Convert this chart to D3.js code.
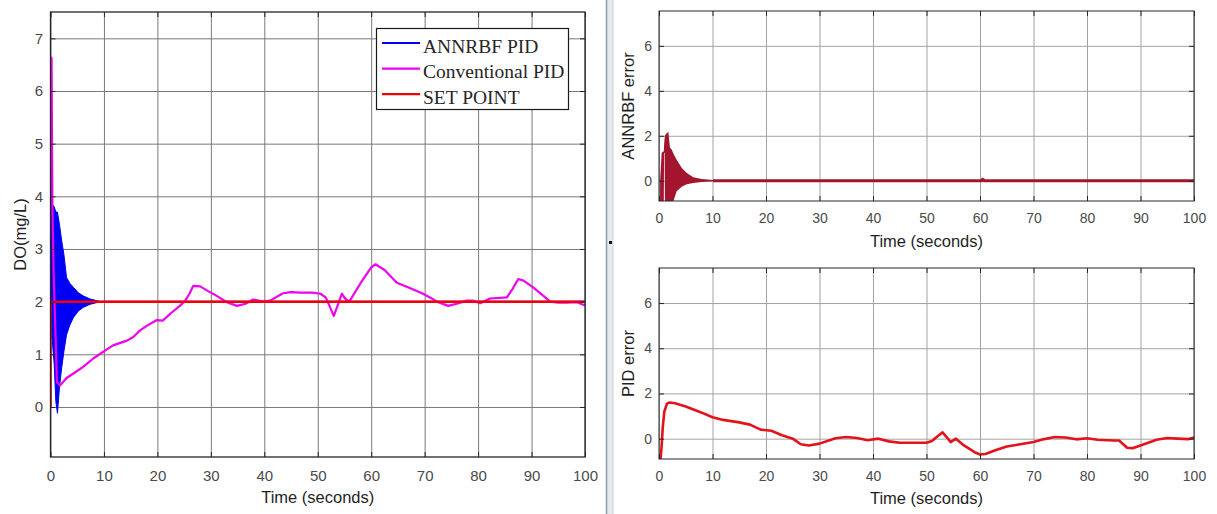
<!DOCTYPE html>
<html>
<head>
<meta charset="utf-8">
<script src="https://cdn.jsdelivr.net/npm/d3@7"></script>
<style>
body { margin: 0; background: #fff; }
text { font-family: "Liberation Sans", Arial, sans-serif; }
</style>
</head>
<body>
<div id="chart"></div>
<script>
// ---- data ----
var timeTicks = [0, 10, 20, 30, 40, 50, 60, 70, 80, 90, 100];
var doTicks = [0, 1, 2, 3, 4, 5, 6, 7];
var errTicks = [0, 2, 4, 6];

var legendNames = ["ANNRBF PID", "Conventional PID", "SET POINT"];

// set point
var spTime = [0, 0, 100];
var spDO = [0, 2, 2];

// conventional PID output
var convTime = [0.15, 0.2, 0.35, 0.6, 0.9, 1.2, 1.8, 3.0, 4.5, 6.1, 8.0, 9.9, 11.7, 14.3, 15.5, 16.7, 18.0,
	19.9, 21.0, 22.5, 24.2, 25.2, 26.0, 26.7, 28.0, 29.5, 31.1, 33.0, 34.9, 36.5, 37.9, 39.8, 41.1, 43.5, 45.0,
	46.7, 49.0, 50.5, 51.5, 53.0, 53.8, 54.5, 55.2, 55.9, 58.0, 60.0, 60.8, 62.5, 64.8, 67.0, 69.7, 71.0, 72.3,
	74.4, 76.0, 77.9, 79.0, 80.4, 82.2, 85.4, 86.5, 87.5, 88.5, 90.3, 92.0, 93.5, 95.0, 96.6, 98.5, 99.7, 100];
var convDO = [6.65, 6.6, 3.8, 2.5, 1.5, 0.47, 0.41, 0.55, 0.65, 0.76, 0.92, 1.05, 1.17, 1.26, 1.33, 1.45, 1.54,
	1.65, 1.64, 1.78, 1.92, 2.02, 2.15, 2.3, 2.29, 2.2, 2.11, 1.99, 1.92, 1.96, 2.04, 2.0, 2.02, 2.16, 2.18,
	2.17, 2.17, 2.15, 2.08, 1.73, 1.95, 2.15, 2.05, 2.0, 2.35, 2.65, 2.71, 2.6, 2.36, 2.27, 2.15, 2.08, 2.0,
	1.92, 1.96, 2.02, 2.02, 1.97, 2.06, 2.08, 2.25, 2.43, 2.4, 2.27, 2.13, 2.0, 1.98, 1.98, 1.99, 1.94, 1.94];

// ANNRBF PID output: envelope of the fast oscillation, then settled at set point
var annTime = [0, 0.25, 0.3, 0.7, 1.0, 1.3, 1.7, 2.1, 2.5, 3.0, 3.6, 4.3, 5.2, 6.1, 7.4, 8.6, 9.5];
var annUpper = [5.6, 5.6, 3.85, 3.8, 3.7, 3.7, 3.45, 3.15, 2.9, 2.46, 2.35, 2.27, 2.17, 2.11, 2.05, 2.02, 2.0];
var annLower = [1.3, 1.3, 1.3, 0.8, 0.1, -0.12, 0.4, 0.75, 1.05, 1.37, 1.55, 1.7, 1.82, 1.89, 1.95, 1.98, 2.0];
var annTailTime = [9.5, 100];
var annTailDO = [2.0, 2.0];

// ANNRBF error envelope and tail
var annErrTime = [0.2, 0.5, 0.8, 0.9, 0.95, 1.05, 1.1, 1.3, 1.75, 2.05, 2.4, 2.7, 3.3, 4.3, 5.2, 6.4, 8.0, 10.1];
var annErrUpper = [0.0, 1.25, 1.3, 1.3, 1.6, 1.9, 2.0, 2.08, 2.18, 1.47, 1.38, 1.2, 0.93, 0.56, 0.34, 0.16, 0.08, 0.03];
var annErrLower = [-0.9, -0.9, -0.9, -0.9, 1.25, 1.25, -0.9, -0.9, -0.9, -0.9, -0.9, -0.9, -0.47, -0.25, -0.15, -0.1, -0.05, -0.02];
var annErrTailTime = [10.1, 60.2, 60.5, 60.9, 100];
var annErrTail = [0.0, 0.0, 0.06, 0.0, 0.0];

// conventional PID error
var pidTime = [0, 0.3, 0.5, 0.7, 1.0, 1.5, 2.0, 3.0, 5.0, 8.0, 10.0, 12.0, 15.0, 17.0, 19.0, 21.0, 23.0, 25.0,
	26.5, 28.0, 30.0, 33.0, 35.0, 37.0, 39.0, 41.0, 43.0, 45.0, 50.0, 51.0, 53.0, 54.0, 54.5, 55.5, 57.0, 59.0,
	60.0, 61.0, 63.0, 65.0, 67.0, 70.0, 72.0, 74.0, 76.0, 78.0, 80.0, 82.0, 85.0, 86.0, 87.5, 88.5, 90.0, 93.0,
	95.0, 97.0, 99.0, 100];
var pidErr = [-0.9, -0.9, -0.3, 0.5, 1.2, 1.55, 1.6, 1.57, 1.42, 1.15, 0.95, 0.83, 0.72, 0.62, 0.4, 0.35, 0.15, 0.0,
	-0.25, -0.3, -0.22, 0.02, 0.07, 0.03, -0.07, 0.0, -0.12, -0.18, -0.18, -0.1, 0.28, 0.0, -0.15, 0.0, -0.3, -0.6,
	-0.7, -0.68, -0.5, -0.35, -0.27, -0.15, -0.02, 0.07, 0.05, -0.03, 0.02, -0.05, -0.08, -0.08, -0.4, -0.42, -0.3, -0.05,
	0.03, 0.0, -0.02, 0.05];

function zip(a, b){
	return a.map(function(d, i){ return [d, b[i]]; });
}

var svg = d3.select("#chart")
	.append("svg")
	.attr("width", 1217)
	.attr("height", 514);

// divider between the two figure windows
svg.append("rect")
	.attr("x", 606).attr("y", 0)
	.attr("width", 7).attr("height", 514)
	.attr("fill", "#e6e9ed");
svg.append("line")
	.attr("x1", 606.5).attr("x2", 606.5).attr("y1", 0).attr("y2", 514)
	.attr("stroke", "#8d9ab0").attr("stroke-width", 1.5);
svg.append("line")
	.attr("x1", 613).attr("x2", 613).attr("y1", 0).attr("y2", 514)
	.attr("stroke", "#cfd3d8").attr("stroke-width", 1);
svg.append("rect")
	.attr("x", 609).attr("y", 241)
	.attr("width", 3).attr("height", 3)
	.attr("fill", "#111");

function makePanel(id, box, yDomain, yTicks, yLabel, o){
	var x = d3.scaleLinear().domain([0, 100]).range([box.left, box.right]);
	var y = d3.scaleLinear().domain(yDomain).range([box.bottom, box.top]);
	var h = box.bottom - box.top, w = box.right - box.left;

	svg.append("clipPath").attr("id", id)
		.append("rect")
		.attr("x", box.left).attr("y", box.top)
		.attr("width", w).attr("height", h);

	svg.append("rect")
		.attr("x", box.left).attr("y", box.top)
		.attr("width", w).attr("height", h)
		.attr("fill", "#fff");

	// grid + tick labels
	var gx = svg.append("g")
		.attr("transform", "translate(0," + box.bottom + ")")
		.call(d3.axisBottom(x).tickValues(timeTicks).tickSize(-h).tickPadding(o.padX).tickFormat(d3.format("d")));
	var gy = svg.append("g")
		.attr("transform", "translate(" + box.left + ",0)")
		.call(d3.axisLeft(y).tickValues(yTicks).tickSize(-w).tickPadding(o.padY).tickFormat(d3.format("d")));
	[gx, gy].forEach(function(g){
		g.select(".domain").remove();
		g.selectAll(".tick line").attr("stroke", o.grid).attr("stroke-width", 1);
		g.selectAll(".tick text")
			.attr("fill", "#4a4a4a")
			.style("font-size", o.tickFont + "px")
			.style("font-family", "'Liberation Sans', Arial, sans-serif");
	});

	var plot = svg.append("g").attr("clip-path", "url(#" + id + ")");

	// frame and inner ticks drawn later on top
	var frame = svg.append("g");
	frame.append("g").attr("transform", "translate(0," + box.bottom + ")")
		.call(d3.axisBottom(x).tickValues(timeTicks).tickSize(-5).tickFormat(""));
	frame.append("g").attr("transform", "translate(0," + box.top + ")")
		.call(d3.axisTop(x).tickValues(timeTicks).tickSize(-5).tickFormat(""));
	frame.append("g").attr("transform", "translate(" + box.left + ",0)")
		.call(d3.axisLeft(y).tickValues(yTicks).tickSize(-5).tickFormat(""));
	frame.append("g").attr("transform", "translate(" + box.right + ",0)")
		.call(d3.axisRight(y).tickValues(yTicks).tickSize(-5).tickFormat(""));
	frame.selectAll(".domain").remove();
	frame.selectAll("line").attr("stroke", "#262626");
	frame.append("rect")
		.attr("x", box.left).attr("y", box.top)
		.attr("width", w).attr("height", h)
		.attr("fill", "none")
		.attr("stroke", "#262626")
		.attr("stroke-width", o.frameWidth);

	svg.append("text")
		.attr("x", (box.left + box.right) / 2)
		.attr("y", o.xLabelY)
		.attr("text-anchor", "middle")
		.attr("dy", "0.35em")
		.attr("fill", "#1f1f1f")
		.style("font-size", o.labelFont + "px")
		.text("Time (seconds)");

	svg.append("text")
		.attr("transform", "translate(" + o.yLabelX + "," + ((box.top + box.bottom) / 2) + ") rotate(-90)")
		.attr("text-anchor", "middle")
		.attr("dy", "0.35em")
		.attr("fill", "#1f1f1f")
		.style("font-size", o.labelFont + "px")
		.text(yLabel);

	return {x: x, y: y, plot: plot, frame: frame};
}

// ---- left: DO response ----
var L = makePanel("clipL", {left: 50.5, right: 585, top: 12, bottom: 457}, [-0.95, 7.5], doTicks, "DO(mg/L)",
	{grid: "#7a7a7a", padX: 13, padY: 7.5, tickFont: 15, labelFont: 16.5, xLabelY: 497, yLabelX: 20, frameWidth: 1.3});

var lineL = d3.line().x(function(d){ return L.x(d[0]); }).y(function(d){ return L.y(d[1]); });
var areaL = d3.area()
	.x(function(d){ return L.x(d.t); })
	.y0(function(d){ return L.y(d.lo); })
	.y1(function(d){ return L.y(d.hi); });

L.plot.append("path")
	.datum(annTime.map(function(t, i){ return {t: t, hi: annUpper[i], lo: annLower[i]}; }))
	.attr("d", areaL)
	.attr("fill", "#0000f5")
	.attr("stroke", "#0000f5")
	.attr("stroke-width", 1);
L.plot.append("path")
	.datum(zip(annTailTime, annTailDO))
	.attr("d", lineL)
	.attr("fill", "none").attr("stroke", "#0000f5").attr("stroke-width", 2);
L.plot.append("path")
	.datum(zip(convTime, convDO))
	.attr("d", lineL)
	.attr("fill", "none").attr("stroke", "#f000f0").attr("stroke-width", 2.2)
	.attr("stroke-linejoin", "round");
L.plot.append("path")
	.datum(zip(spTime, spDO))
	.attr("d", lineL)
	.attr("fill", "none").attr("stroke", "#f40000").attr("stroke-width", 2.5);

// legend
var legendColors = ["#0000f5", "#f000f0", "#f40000"];
var legend = svg.append("g");
legend.append("rect")
	.attr("x", 376.5).attr("y", 28.5)
	.attr("width", 192).attr("height", 81)
	.attr("fill", "#fff").attr("stroke", "#1a1a1a").attr("stroke-width", 1.2);
legend.selectAll("line.key")
	.data(legendNames)
	.enter().append("line")
	.attr("class", "key")
	.attr("x1", 382).attr("x2", 420)
	.attr("y1", function(d, i){ return 43 + i * 25.6; })
	.attr("y2", function(d, i){ return 43 + i * 25.6; })
	.attr("stroke", function(d, i){ return legendColors[i]; })
	.attr("stroke-width", 2.2);
legend.selectAll("text")
	.data(legendNames)
	.enter().append("text")
	.attr("x", 423)
	.attr("y", function(d, i){ return 52.5 + i * 25.6; })
	.attr("fill", "#262626")
	.style("font-family", "'Liberation Serif', 'Times New Roman', serif")
	.style("font-size", "19.5px")
	.text(function(d){ return d; });

// ---- right top: ANNRBF error ----
var RT = makePanel("clipRT", {left: 659, right: 1194, top: 11, bottom: 201}, [-0.9, 7.55], errTicks, "ANNRBF error",
	{grid: "#a3a3a3", padX: 12, padY: 7, tickFont: 14, labelFont: 16.5, xLabelY: 241, yLabelX: 628, frameWidth: 1});

var lineRT = d3.line().x(function(d){ return RT.x(d[0]); }).y(function(d){ return RT.y(d[1]); });
RT.plot.append("path")
	.datum(annErrTime.map(function(t, i){ return {t: t, hi: annErrUpper[i], lo: annErrLower[i]}; }))
	.attr("d", d3.area()
		.x(function(d){ return RT.x(d.t); })
		.y0(function(d){ return RT.y(d.lo); })
		.y1(function(d){ return RT.y(d.hi); }))
	.attr("fill", "#a3142f");
RT.plot.append("path")
	.datum(zip(annErrTailTime, annErrTail))
	.attr("d", lineRT)
	.attr("fill", "none").attr("stroke", "#a3142f").attr("stroke-width", 3);

// ---- right bottom: PID error ----
var RB = makePanel("clipRB", {left: 659, right: 1194, top: 268, bottom: 459}, [-0.9, 7.55], errTicks, "PID error",
	{grid: "#a3a3a3", padX: 12, padY: 7, tickFont: 14, labelFont: 16.5, xLabelY: 498, yLabelX: 628, frameWidth: 1});

var lineRB = d3.line().x(function(d){ return RB.x(d[0]); }).y(function(d){ return RB.y(d[1]); });
RB.plot.append("path")
	.datum(zip(pidTime, pidErr))
	.attr("d", lineRB)
	.attr("fill", "none").attr("stroke", "#e3121b").attr("stroke-width", 2.6)
	.attr("stroke-linejoin", "round");
</script>
</body>
</html>
